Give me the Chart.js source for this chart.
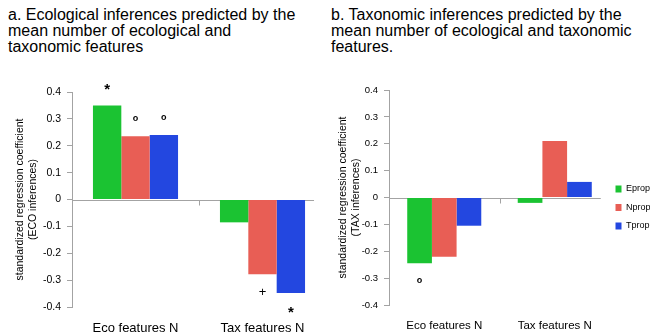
<!DOCTYPE html>
<html>
<head>
<meta charset="utf-8">
<script src="https://cdn.jsdelivr.net/npm/chart.js@4/dist/chart.umd.min.js"></script>
<style>
  html, body { margin: 0; padding: 0; background: #fff; overflow: hidden; width: 650px; height: 335px; }
  .title { position: absolute; font-family: Arial, "Liberation Sans", sans-serif; font-size: 16px; line-height: 16px; color: #000; white-space: nowrap; }
  #ta { left: 8px; top: 7px; }
  #tb { left: 331px; top: 7px; }
  #wa { position: absolute; left: 0; top: 0; width: 326px; height: 335px; }
  #wb { position: absolute; left: 326px; top: 0; width: 330px; height: 335px; }
</style>
</head>
<body>
<div class="title" id="ta">a. Ecological inferences predicted by the<br>mean number of ecological and<br>taxonomic features</div>
<div class="title" id="tb">b. Taxonomic inferences predicted by the<br>mean number of ecological and taxonomic<br>features.</div>
<div id="wa"><canvas id="ca"></canvas></div>
<div id="wb"><canvas id="cb"></canvas></div>
<script>
// Predictors on the x axis
const categories = ['Eco features N', 'Tax features N'];
const seriesNames = ['Eprop', 'Nprop', 'Tprop'];
const seriesColors = ['#1bc332', '#e85e55', '#2347e0'];

// Panel a: ECO inferences (standardized coefficients)
const ecoEprop = [0.35, -0.085];
const ecoNprop = [0.235, -0.278];
const ecoTprop = [0.24, -0.348];
// significance marks per bar
const ecoMarksE = ['*', ''];
const ecoMarksN = ['o', '+'];
const ecoMarksT = ['o', '*'];

// Panel b: TAX inferences (standardized coefficients)
const taxEprop = [-0.245, -0.02];
const taxNprop = [-0.22, 0.21];
const taxTprop = [-0.105, 0.058];
const taxMarksE = ['o', ''];
const taxMarksN = ['', ''];
const taxMarksT = ['', ''];

const yTickValues = [-0.4, -0.3, -0.2, -0.1, 0, 0.1, 0.2, 0.3, 0.4];

const FONT = 'Arial, "Liberation Sans", sans-serif';
Chart.defaults.font.family = FONT;
Chart.defaults.color = '#000';
const AXIS_GREY = '#a3a3a3';

function fmtTick(v) {
  if (Math.abs(v) < 1e-9) return '0';
  return (Math.round(v * 10) / 10).toFixed(1);
}

// zero baseline plus the small separator tick between categories
const zeroLine = {
  id: 'zeroLine',
  beforeDatasetsDraw(chart) {
    const { ctx, scales: { x, y } } = chart;
    const y0 = Math.round(y.getPixelForValue(0)) + 0.5;
    let right = chart.chartArea.left;
    chart.data.datasets.forEach((d, i) => {
      chart.getDatasetMeta(i).data.forEach(b => {
        right = Math.max(right, b.x + b.width / 2);
      });
    });
    const mid = Math.round((x.getPixelForValue(0) + x.getPixelForValue(1)) / 2) + 0.5;
    ctx.save();
    ctx.strokeStyle = AXIS_GREY;
    ctx.lineWidth = 1;
    ctx.beginPath();
    ctx.moveTo(chart.chartArea.left, y0);
    ctx.lineTo(right + 9, y0);
    ctx.moveTo(mid, y0);
    ctx.lineTo(mid, y0 + 5);
    ctx.stroke();
    ctx.restore();
  }
};

// significance symbols above positive bars / below negative bars
const sigMarks = {
  id: 'sigMarks',
  afterDatasetsDraw(chart) {
    const { ctx } = chart;
    ctx.save();
    ctx.fillStyle = '#000';
    ctx.textAlign = 'center';
    ctx.textBaseline = 'alphabetic';
    chart.data.datasets.forEach((d, i) => {
      const meta = chart.getDatasetMeta(i);
      (d.marks || []).forEach((m, j) => {
        if (!m) return;
        const bar = meta.data[j];
        const v = d.data[j];
        let font = 'bold 15px ';
        if (m === 'o') font = 'bold 9px ';
        if (m === '+') font = '13px ';
        ctx.font = font + FONT;
        const mt = ctx.measureText(m);
        const glyphMid = (mt.actualBoundingBoxAscent - mt.actualBoundingBoxDescent) / 2;
        const cy = v >= 0 ? bar.y - 18 : bar.y + 17;
        ctx.fillText(m, bar.x, cy + glyphMid);
      });
    });
    ctx.restore();
  }
};

// the legend sits a little closer to the plot than Chart.js places it
const legendOffset = {
  id: 'legendOffset',
  afterLayout(chart) {
    const lg = chart.legend;
    const off = chart.options.plugins.legendOffset || { dx: 0, dy: 0 };
    if (!lg || !lg.options.display) return;
    lg.left += off.dx; lg.right += off.dx;
    lg.top += off.dy; lg.bottom += off.dy;
  }
};

function makeDatasets(values, marks) {
  return values.map((vals, i) => ({
    label: seriesNames[i],
    data: vals,
    marks: marks[i],
    backgroundColor: seriesColors[i],
    borderWidth: 0,
    categoryPercentage: 0.67,
    barPercentage: 1.0
  }));
}

function makeOptions(cfg) {
  return {
    responsive: true,
    maintainAspectRatio: false,
    animation: false,
    layout: { padding: { top: cfg.top, left: 0, right: 0, bottom: 0 } },
    plugins: {
      legend: cfg.legend,
      legendOffset: cfg.legendOffset,
      tooltip: { enabled: false }
    },
    scales: {
      x: {
        grid: { display: false, drawTicks: false },
        border: { display: false },
        ticks: { font: { size: cfg.catFont }, color: '#000', padding: cfg.catPad },
        afterFit(s) { s.height = cfg.xHeight; }
      },
      y: {
        min: -0.4,
        max: 0.4,
        afterBuildTicks(s) { s.ticks = yTickValues.map(v => ({ value: v })); },
        ticks: { font: { size: cfg.tickFont }, color: '#000', padding: 6, callback: v => fmtTick(v) },
        border: { display: true, color: AXIS_GREY },
        grid: { drawOnChartArea: false, tickLength: 5, color: AXIS_GREY },
        title: {
          display: true,
          text: ['standardized regression coefficient', cfg.yTitle2],
          font: { size: 10.5, lineHeight: 1.24 },
          color: '#000',
          padding: { top: cfg.titlePad, bottom: 0 }
        },
        afterFit(s) { s.width = cfg.yWidth; }
      }
    }
  };
}

new Chart(document.getElementById('ca'), {
  type: 'bar',
  data: {
    labels: categories,
    datasets: makeDatasets([ecoEprop, ecoNprop, ecoTprop], [ecoMarksE, ecoMarksN, ecoMarksT])
  },
  options: makeOptions({
    top: 92, xHeight: 28, yWidth: 72, catFont: 13, catPad: 14, tickFont: 10.5,
    titlePad: 13.5, yTitle2: '(ECO inferences)', legend: { display: false }
  }),
  plugins: [zeroLine, sigMarks]
});

new Chart(document.getElementById('cb'), {
  type: 'bar',
  data: {
    labels: categories,
    datasets: makeDatasets([taxEprop, taxNprop, taxTprop], [taxMarksE, taxMarksN, taxMarksT])
  },
  options: makeOptions({
    top: 90, xHeight: 30, yWidth: 63, catFont: 11.5, catPad: 14, tickFont: 9.5,
    titlePad: 10.5, yTitle2: '(TAX inferences)',
    legend: {
      display: true,
      position: 'right',
      align: 'center',
      maxWidth: 46,
      labels: { boxWidth: 6, boxHeight: 7, font: { size: 9 }, color: '#000', padding: 9.5 }
    },
    legendOffset: { dx: -4, dy: -5 }
  }),
  plugins: [zeroLine, sigMarks, legendOffset]
});
</script>
</body>
</html>
